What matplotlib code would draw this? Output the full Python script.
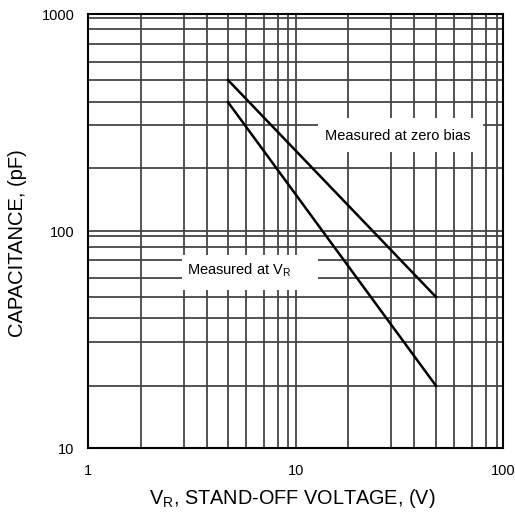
import matplotlib
matplotlib.use("Agg")
import matplotlib.pyplot as plt
from matplotlib.patches import Rectangle

plt.rcParams["font.family"] = ["Liberation Sans", "DejaVu Sans"]

# curve end points
v_zero_bias = [4.71, 47.4]
c_zero_bias = [498, 49.8]
v_at_vr = [4.71, 47.4]
c_at_vr = [394, 19.4]

# the printed grid is a little uneven, so keep the lines where they are drawn
x_grid = [1.795, 2.89, 3.73, 4.71, 5.75, 7.03, 8.23, 9.2, 10,
          17.85, 28.8, 37.1, 47.4, 57.9, 70.9, 82.3, 93.5]
y_grid = [958, 856, 727, 601, 498, 394, 309, 196, 100,
          95.4, 84.4, 73.8, 60.9, 49.8, 39.8, 30.9, 19.4]

x_ticks = [1, 10, 100]
y_ticks = [10, 100, 1000]

fig = plt.figure(figsize=(5.15, 5.12), dpi=100)
ax = fig.add_axes([88.3 / 515, 1 - 448.3 / 512, 415 / 515, 434 / 512])
ax.set_xscale("log")
ax.set_yscale("log")
ax.set_xlim(1, 100)
ax.set_ylim(10, 1000)

for xv in x_grid:
    ax.axvline(xv, color="#454545", lw=1.3, zorder=1)
for yv in y_grid:
    ax.axhline(yv, color="#454545", lw=1.3, zorder=1)

# white label boxes break the grid
ax.add_patch(Rectangle((0.5535, 0.683), 0.3975, 0.078, transform=ax.transAxes,
                       facecolor="white", edgecolor="none", zorder=2))
ax.add_patch(Rectangle((0.226, 0.365), 0.3275, 0.081, transform=ax.transAxes,
                       facecolor="white", edgecolor="none", zorder=2))

ax.plot(v_zero_bias, c_zero_bias, color="black", lw=1.8, zorder=3)
ax.plot(v_at_vr, c_at_vr, color="black", lw=1.8, zorder=3)

ax.text(0.745, 0.720, "Measured at zero bias", transform=ax.transAxes,
        ha="center", va="center", fontsize=10.5, zorder=4)
ax.text(0.363, 0.411, r"Measured at V$_\mathregular{R}$", transform=ax.transAxes,
        ha="center", va="center", fontsize=10.5, zorder=4)

ax.set_xticks(x_ticks)
ax.set_xticklabels([str(t) for t in x_ticks])
ax.set_yticks(y_ticks)
ax.set_yticklabels([str(t) for t in y_ticks])
ax.minorticks_off()
ax.tick_params(length=0, labelsize=10.5)
ax.tick_params(axis="x", pad=11)
ax.tick_params(axis="y", pad=10)

for s in ax.spines.values():
    s.set_linewidth(1.5)
    s.set_color("black")
    s.set_zorder(5)

fig.text(292.5 / 515, 1 - 498 / 512, r"V$_\mathregular{R}$, STAND-OFF VOLTAGE, (V)",
         ha="center", va="center", fontsize=14.3)
fig.text(18 / 515, 1 - 243 / 512, "CAPACITANCE, (pF)", rotation=90,
         ha="center", va="center", fontsize=14.5)

fig.savefig("out.png", dpi=100)
